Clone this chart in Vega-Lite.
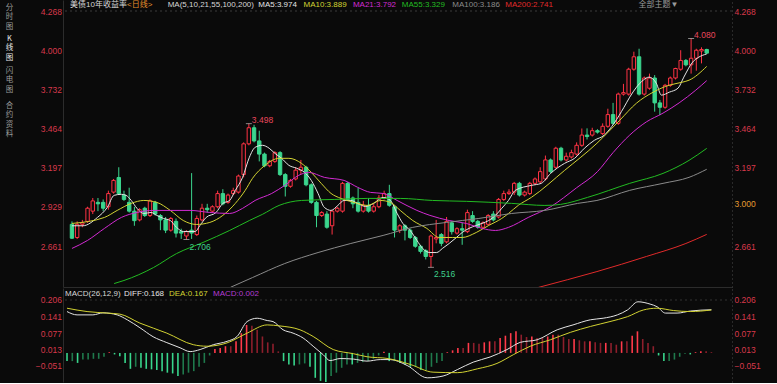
{
"$schema": "https://vega.github.io/schema/vega-lite/v6.json",
"background": "#0a0a0a",
"padding": {"left": 5, "top": 0, "right": 0, "bottom": 0},
"spacing": 1,
"config": {"view": {"stroke": null}, "font": "Liberation Sans, Noto Sans CJK SC", "axis": {"grid": false, "ticks": false, "titleAngle": 0, "titleAlign": "center", "titleBaseline": "top", "titleFontSize": 7.5, "titleFontWeight": "normal", "titleColor": "#9c9c9c", "titleLineHeight": 9.6, "titleFont": "Noto Sans CJK SC", "titlePadding": 0}},
"datasets": {
"k": [
{"i":0,"o":2.81,"h":2.83,"l":2.71,"c":2.715},{"i":1,"o":2.72,"h":2.83,"l":2.71,"c":2.81},{"i":2,"o":2.81,"h":2.84,"l":2.79,"c":2.82},{"i":3,"o":2.83,"h":2.93,"l":2.82,"c":2.92},{"i":4,"o":2.9,"h":2.99,"l":2.88,"c":2.97},{"i":5,"o":2.96,"h":2.99,"l":2.9,"c":2.95},{"i":6,"o":2.96,"h":2.98,"l":2.9,"c":2.92},{"i":7,"o":2.93,"h":3.04,"l":2.91,"c":3.02},{"i":8,"o":3.03,"h":3.12,"l":3.02,"c":3.11},{"i":9,"o":3.13,"h":3.2,"l":3.01,"c":3.02},
{"i":10,"o":3.01,"h":3.04,"l":2.97,"c":2.98},{"i":11,"o":2.96,"h":3.06,"l":2.89,"c":2.9},{"i":12,"o":2.9,"h":2.93,"l":2.8,"c":2.835},{"i":13,"o":2.84,"h":2.92,"l":2.83,"c":2.91},{"i":14,"o":2.92,"h":2.93,"l":2.86,"c":2.87},{"i":15,"o":2.87,"h":2.98,"l":2.86,"c":2.97},{"i":16,"o":2.96,"h":2.97,"l":2.87,"c":2.88},{"i":17,"o":2.87,"h":2.88,"l":2.77,"c":2.84},{"i":18,"o":2.84,"h":2.86,"l":2.75,"c":2.77},{"i":19,"o":2.77,"h":2.86,"l":2.76,"c":2.85},
{"i":20,"o":2.83,"h":2.85,"l":2.72,"c":2.75},{"i":21,"o":2.76,"h":2.78,"l":2.71,"c":2.75},{"i":22,"o":2.73,"h":2.77,"l":2.706,"c":2.76},{"i":23,"o":2.77,"h":3.16,"l":2.71,"c":2.75},{"i":24,"o":2.74,"h":2.87,"l":2.73,"c":2.85},{"i":25,"o":2.84,"h":2.95,"l":2.83,"c":2.92},{"i":26,"o":2.92,"h":2.95,"l":2.89,"c":2.91},{"i":27,"o":2.9,"h":2.94,"l":2.89,"c":2.93},{"i":28,"o":2.93,"h":3.04,"l":2.92,"c":3.02},{"i":29,"o":3.02,"h":3.05,"l":2.94,"c":2.95},
{"i":30,"o":2.96,"h":3.02,"l":2.95,"c":3.01},{"i":31,"o":3.02,"h":3.06,"l":3.01,"c":3.04},{"i":32,"o":3.03,"h":3.15,"l":3.02,"c":3.14},{"i":33,"o":3.15,"h":3.37,"l":3.13,"c":3.36},{"i":34,"o":3.36,"h":3.498,"l":3.35,"c":3.47},{"i":35,"o":3.47,"h":3.49,"l":3.37,"c":3.38},{"i":36,"o":3.38,"h":3.45,"l":3.24,"c":3.29},{"i":37,"o":3.29,"h":3.3,"l":3.2,"c":3.21},{"i":38,"o":3.21,"h":3.25,"l":3.2,"c":3.24},{"i":39,"o":3.24,"h":3.31,"l":3.23,"c":3.3},
{"i":40,"o":3.3,"h":3.31,"l":3.14,"c":3.15},{"i":41,"o":3.15,"h":3.16,"l":3.0,"c":3.07},{"i":42,"o":3.07,"h":3.12,"l":3.06,"c":3.11},{"i":43,"o":3.12,"h":3.2,"l":3.11,"c":3.18},{"i":44,"o":3.18,"h":3.25,"l":3.15,"c":3.2},{"i":45,"o":3.2,"h":3.21,"l":3.07,"c":3.08},{"i":46,"o":3.08,"h":3.09,"l":2.95,"c":2.96},{"i":47,"o":2.96,"h":2.97,"l":2.79,"c":2.87},{"i":48,"o":2.87,"h":2.9,"l":2.86,"c":2.89},{"i":49,"o":2.88,"h":2.9,"l":2.78,"c":2.79},
{"i":50,"o":2.8,"h":2.91,"l":2.74,"c":2.9},{"i":51,"o":2.9,"h":2.93,"l":2.89,"c":2.92},{"i":52,"o":2.9,"h":3.1,"l":2.89,"c":3.09},{"i":53,"o":3.09,"h":3.1,"l":2.97,"c":2.98},{"i":54,"o":2.99,"h":3.0,"l":2.92,"c":2.95},{"i":55,"o":2.96,"h":3.06,"l":2.89,"c":2.9},{"i":56,"o":2.9,"h":2.97,"l":2.89,"c":2.94},{"i":57,"o":2.94,"h":2.99,"l":2.89,"c":2.9},{"i":58,"o":2.9,"h":2.95,"l":2.89,"c":2.93},{"i":59,"o":2.93,"h":3.01,"l":2.92,"c":2.99},
{"i":60,"o":2.99,"h":3.04,"l":2.98,"c":3.02},{"i":61,"o":3.02,"h":3.08,"l":2.93,"c":2.94},{"i":62,"o":2.93,"h":2.94,"l":2.72,"c":2.77},{"i":63,"o":2.77,"h":2.81,"l":2.75,"c":2.8},{"i":64,"o":2.8,"h":2.81,"l":2.7,"c":2.77},{"i":65,"o":2.77,"h":2.78,"l":2.71,"c":2.72},{"i":66,"o":2.72,"h":2.73,"l":2.65,"c":2.66},{"i":67,"o":2.66,"h":2.67,"l":2.61,"c":2.625},{"i":68,"o":2.63,"h":2.64,"l":2.57,"c":2.59},{"i":69,"o":2.59,"h":2.74,"l":2.516,"c":2.73},
{"i":70,"o":2.71,"h":2.84,"l":2.68,"c":2.72},{"i":71,"o":2.74,"h":2.75,"l":2.66,"c":2.68},{"i":72,"o":2.69,"h":2.86,"l":2.68,"c":2.83},{"i":73,"o":2.82,"h":2.83,"l":2.74,"c":2.76},{"i":74,"o":2.75,"h":2.79,"l":2.74,"c":2.78},{"i":75,"o":2.78,"h":2.82,"l":2.67,"c":2.77},{"i":76,"o":2.76,"h":2.91,"l":2.75,"c":2.89},{"i":77,"o":2.87,"h":2.9,"l":2.82,"c":2.83},{"i":78,"o":2.83,"h":2.84,"l":2.78,"c":2.79},{"i":79,"o":2.79,"h":2.83,"l":2.78,"c":2.82},
{"i":80,"o":2.81,"h":2.88,"l":2.8,"c":2.87},{"i":81,"o":2.88,"h":2.9,"l":2.83,"c":2.84},{"i":82,"o":2.86,"h":2.99,"l":2.85,"c":2.98},{"i":83,"o":2.98,"h":3.04,"l":2.97,"c":3.02},{"i":84,"o":3.02,"h":3.05,"l":3.01,"c":3.03},{"i":85,"o":3.03,"h":3.1,"l":3.01,"c":3.09},{"i":86,"o":3.09,"h":3.1,"l":3.0,"c":3.01},{"i":87,"o":3.01,"h":3.04,"l":3.0,"c":3.03},{"i":88,"o":3.02,"h":3.1,"l":3.01,"c":3.09},{"i":89,"o":3.09,"h":3.13,"l":3.08,"c":3.12},
{"i":90,"o":3.1,"h":3.2,"l":3.09,"c":3.17},{"i":91,"o":3.12,"h":3.28,"l":3.11,"c":3.25},{"i":92,"o":3.25,"h":3.26,"l":3.16,"c":3.17},{"i":93,"o":3.2,"h":3.34,"l":3.19,"c":3.33},{"i":94,"o":3.33,"h":3.34,"l":3.24,"c":3.25},{"i":95,"o":3.25,"h":3.3,"l":3.24,"c":3.275},{"i":96,"o":3.27,"h":3.32,"l":3.26,"c":3.3},{"i":97,"o":3.29,"h":3.37,"l":3.28,"c":3.35},{"i":98,"o":3.35,"h":3.465,"l":3.34,"c":3.42},{"i":99,"o":3.42,"h":3.466,"l":3.39,"c":3.41},
{"i":100,"o":3.42,"h":3.47,"l":3.41,"c":3.45},{"i":101,"o":3.45,"h":3.46,"l":3.43,"c":3.44},{"i":102,"o":3.43,"h":3.5,"l":3.42,"c":3.48},{"i":103,"o":3.48,"h":3.6,"l":3.47,"c":3.56},{"i":104,"o":3.56,"h":3.64,"l":3.49,"c":3.5},{"i":105,"o":3.5,"h":3.71,"l":3.49,"c":3.7},{"i":106,"o":3.7,"h":3.77,"l":3.69,"c":3.71},{"i":107,"o":3.7,"h":3.88,"l":3.69,"c":3.87},{"i":108,"o":3.87,"h":3.99,"l":3.86,"c":3.955},{"i":109,"o":3.955,"h":4.01,"l":3.69,"c":3.7},
{"i":110,"o":3.7,"h":3.82,"l":3.69,"c":3.81},{"i":111,"o":3.74,"h":3.84,"l":3.73,"c":3.81},{"i":112,"o":3.81,"h":3.83,"l":3.58,"c":3.64},{"i":113,"o":3.64,"h":3.66,"l":3.556,"c":3.61},{"i":114,"o":3.61,"h":3.77,"l":3.6,"c":3.76},{"i":115,"o":3.76,"h":3.82,"l":3.75,"c":3.81},{"i":116,"o":3.81,"h":3.88,"l":3.8,"c":3.875},{"i":117,"o":3.87,"h":4.0,"l":3.86,"c":3.93},{"i":118,"o":3.93,"h":3.94,"l":3.89,"c":3.9},{"i":119,"o":3.9,"h":4.08,"l":3.84,"c":3.945},
{"i":120,"o":3.945,"h":4.01,"l":3.86,"c":4.0},{"i":121,"o":3.995,"h":4.02,"l":3.91,"c":4.005},{"i":122,"o":4.005,"h":4.01,"l":3.975,"c":3.98}
],
"ma": [
{"k":"MA5","i":0,"v":2.8},{"k":"MA5","i":2.1,"v":2.8},{"k":"MA5","i":4.9,"v":2.857},{"k":"MA5","i":6.8,"v":2.926},{"k":"MA5","i":8.1,"v":3.008},{"k":"MA5","i":9.5,"v":3.015},{"k":"MA5","i":10.4,"v":3.008},{"k":"MA5","i":11.4,"v":2.973},{"k":"MA5","i":12.5,"v":2.919},{"k":"MA5","i":13.8,"v":2.884},{"k":"MA5","i":15.2,"v":2.891},{"k":"MA5","i":16.3,"v":2.871},{"k":"MA5","i":17.6,"v":2.85},{"k":"MA5","i":18.9,"v":2.836},{"k":"MA5","i":20.1,"v":2.789},{"k":"MA5","i":21.4,"v":2.761},{"k":"MA5","i":22.3,"v":2.761},{"k":"MA5","i":23.7,"v":2.761},{"k":"MA5","i":24.6,"v":2.802},{"k":"MA5","i":25.8,"v":2.857},{"k":"MA5","i":27.7,"v":2.891},{"k":"MA5","i":29,"v":2.953},{"k":"MA5","i":30.3,"v":2.973},{"k":"MA5","i":31.4,"v":3.042},{"k":"MA5","i":32.8,"v":3.131},{"k":"MA5","i":34.1,"v":3.268},{"k":"MA5","i":35.2,"v":3.336},{"k":"MA5","i":36.6,"v":3.35},{"k":"MA5","i":37.9,"v":3.33},{"k":"MA5","i":39,"v":3.295},{"k":"MA5","i":40.3,"v":3.261},{"k":"MA5","i":41.7,"v":3.213},{"k":"MA5","i":43.2,"v":3.193},{"k":"MA5","i":44.7,"v":3.165},{"k":"MA5","i":46,"v":3.11},{"k":"MA5","i":47.3,"v":3.021},{"k":"MA5","i":48.5,"v":2.926},{"k":"MA5","i":49.8,"v":2.905},{"k":"MA5","i":51.1,"v":2.939},{"k":"MA5","i":52.3,"v":2.973},{"k":"MA5","i":53.6,"v":2.973},{"k":"MA5","i":54.9,"v":2.953},{"k":"MA5","i":56.4,"v":2.932},{"k":"MA5","i":58,"v":2.953},{"k":"MA5","i":59.8,"v":2.994},{"k":"MA5","i":61.2,"v":2.973},{"k":"MA5","i":62.5,"v":2.884},{"k":"MA5","i":63.6,"v":2.816},{"k":"MA5","i":65,"v":2.768},{"k":"MA5","i":66.3,"v":2.7},{"k":"MA5","i":67.4,"v":2.645},{"k":"MA5","i":68.8,"v":2.617},{"k":"MA5","i":70.1,"v":2.617},{"k":"MA5","i":71.2,"v":2.645},{"k":"MA5","i":72.5,"v":2.679},{"k":"MA5","i":73.9,"v":2.72},{"k":"MA5","i":75,"v":2.754},{"k":"MA5","i":76.3,"v":2.782},{"k":"MA5","i":77.7,"v":2.802},{"k":"MA5","i":78.8,"v":2.816},{"k":"MA5","i":80.1,"v":2.836},{"k":"MA5","i":81.4,"v":2.871},{"k":"MA5","i":82.6,"v":2.919},{"k":"MA5","i":83.9,"v":2.973},{"k":"MA5","i":85.2,"v":3.042},{"k":"MA5","i":88.3,"v":3.076},{"k":"MA5","i":90.2,"v":3.09},{"k":"MA5","i":92,"v":3.158},{"k":"MA5","i":94.7,"v":3.227},{"k":"MA5","i":96.6,"v":3.261},{"k":"MA5","i":98.5,"v":3.33},{"k":"MA5","i":100.4,"v":3.384},{"k":"MA5","i":102.3,"v":3.419},{"k":"MA5","i":104.2,"v":3.501},{"k":"MA5","i":106.1,"v":3.61},{"k":"MA5","i":107.2,"v":3.679},{"k":"MA5","i":108.5,"v":3.747},{"k":"MA5","i":109.8,"v":3.795},{"k":"MA5","i":110.9,"v":3.816},{"k":"MA5","i":112.3,"v":3.775},{"k":"MA5","i":113.3,"v":3.693},{"k":"MA5","i":114.8,"v":3.713},{"k":"MA5","i":116.5,"v":3.741},{"k":"MA5","i":117.6,"v":3.816},{"k":"MA5","i":119.3,"v":3.919},{"k":"MA5","i":120.5,"v":3.953},{"k":"MA5","i":122,"v":3.974},
{"k":"MA10","i":0,"v":2.816},{"k":"MA10","i":6.25,"v":2.857},{"k":"MA10","i":8.7,"v":2.905},{"k":"MA10","i":11.4,"v":2.953},{"k":"MA10","i":13.8,"v":2.973},{"k":"MA10","i":16.3,"v":2.96},{"k":"MA10","i":18.9,"v":2.905},{"k":"MA10","i":21.4,"v":2.836},{"k":"MA10","i":23.9,"v":2.809},{"k":"MA10","i":26.5,"v":2.823},{"k":"MA10","i":29,"v":2.871},{"k":"MA10","i":31.4,"v":2.953},{"k":"MA10","i":33.3,"v":3.042},{"k":"MA10","i":34.7,"v":3.124},{"k":"MA10","i":37.1,"v":3.213},{"k":"MA10","i":39.8,"v":3.261},{"k":"MA10","i":41.7,"v":3.261},{"k":"MA10","i":44.1,"v":3.227},{"k":"MA10","i":46,"v":3.165},{"k":"MA10","i":47.9,"v":3.09},{"k":"MA10","i":49.8,"v":3.021},{"k":"MA10","i":51.7,"v":2.987},{"k":"MA10","i":54.2,"v":2.96},{"k":"MA10","i":56.8,"v":2.939},{"k":"MA10","i":59.3,"v":2.973},{"k":"MA10","i":61.2,"v":2.96},{"k":"MA10","i":63.1,"v":2.905},{"k":"MA10","i":65.5,"v":2.836},{"k":"MA10","i":68.2,"v":2.782},{"k":"MA10","i":70.6,"v":2.72},{"k":"MA10","i":73.1,"v":2.72},{"k":"MA10","i":75,"v":2.72},{"k":"MA10","i":77.7,"v":2.754},{"k":"MA10","i":80.1,"v":2.802},{"k":"MA10","i":82.6,"v":2.85},{"k":"MA10","i":83.9,"v":2.884},{"k":"MA10","i":85.8,"v":2.94},{"k":"MA10","i":88.3,"v":2.994},{"k":"MA10","i":94.7,"v":3.179},{"k":"MA10","i":100.9,"v":3.364},{"k":"MA10","i":105.3,"v":3.522},{"k":"MA10","i":108.5,"v":3.638},{"k":"MA10","i":111.7,"v":3.713},{"k":"MA10","i":114.8,"v":3.761},{"k":"MA10","i":117.4,"v":3.782},{"k":"MA10","i":118.6,"v":3.795},{"k":"MA10","i":122,"v":3.889},
{"k":"MA21","i":0,"v":2.645},{"k":"MA21","i":3,"v":2.7},{"k":"MA21","i":6.25,"v":2.782},{"k":"MA21","i":9.5,"v":2.857},{"k":"MA21","i":12.5,"v":2.891},{"k":"MA21","i":15.7,"v":2.905},{"k":"MA21","i":18.9,"v":2.905},{"k":"MA21","i":22.7,"v":2.905},{"k":"MA21","i":26.5,"v":2.891},{"k":"MA21","i":30.3,"v":2.884},{"k":"MA21","i":32.8,"v":2.919},{"k":"MA21","i":35.2,"v":2.973},{"k":"MA21","i":38.4,"v":3.021},{"k":"MA21","i":40.9,"v":3.076},{"k":"MA21","i":43.6,"v":3.145},{"k":"MA21","i":45.5,"v":3.165},{"k":"MA21","i":48.5,"v":3.131},{"k":"MA21","i":52.3,"v":3.11},{"k":"MA21","i":54.9,"v":3.063},{"k":"MA21","i":57.4,"v":3.028},{"k":"MA21","i":59.8,"v":3.021},{"k":"MA21","i":62.5,"v":2.973},{"k":"MA21","i":66.3,"v":2.905},{"k":"MA21","i":68.8,"v":2.871},{"k":"MA21","i":72.5,"v":2.836},{"k":"MA21","i":75.8,"v":2.816},{"k":"MA21","i":78.8,"v":2.782},{"k":"MA21","i":81.4,"v":2.768},{"k":"MA21","i":83.9,"v":2.789},{"k":"MA21","i":87.7,"v":2.857},{"k":"MA21","i":92,"v":2.93},{"k":"MA21","i":97,"v":3.06},{"k":"MA21","i":101,"v":3.17},{"k":"MA21","i":104,"v":3.3},{"k":"MA21","i":107.2,"v":3.42},{"k":"MA21","i":110.4,"v":3.51},{"k":"MA21","i":113.6,"v":3.57},{"k":"MA21","i":116.7,"v":3.64},{"k":"MA21","i":119.9,"v":3.727},{"k":"MA21","i":122,"v":3.792},
{"k":"MA55","i":8.1,"v":2.405},{"k":"MA55","i":10,"v":2.426},{"k":"MA55","i":15.7,"v":2.515},{"k":"MA55","i":20.1,"v":2.61},{"k":"MA55","i":25.2,"v":2.686},{"k":"MA55","i":30.3,"v":2.768},{"k":"MA55","i":34.1,"v":2.836},{"k":"MA55","i":36.6,"v":2.878},{"k":"MA55","i":39.8,"v":2.939},{"k":"MA55","i":44.1,"v":2.973},{"k":"MA55","i":50.4,"v":2.98},{"k":"MA55","i":56.8,"v":2.987},{"k":"MA55","i":63.1,"v":2.987},{"k":"MA55","i":69.3,"v":2.973},{"k":"MA55","i":75.8,"v":2.967},{"k":"MA55","i":84.5,"v":2.953},{"k":"MA55","i":90.9,"v":2.939},{"k":"MA55","i":93.9,"v":2.946},{"k":"MA55","i":99.1,"v":2.994},{"k":"MA55","i":107.2,"v":3.09},{"k":"MA55","i":113.6,"v":3.158},{"k":"MA55","i":118.6,"v":3.247},{"k":"MA55","i":122,"v":3.329},
{"k":"MA100","i":30.5,"v":2.38},{"k":"MA100","i":34.7,"v":2.446},{"k":"MA100","i":40.9,"v":2.542},{"k":"MA100","i":47.3,"v":2.617},{"k":"MA100","i":53.6,"v":2.679},{"k":"MA100","i":59.8,"v":2.734},{"k":"MA100","i":65.5,"v":2.789},{"k":"MA100","i":72,"v":2.823},{"k":"MA100","i":78.2,"v":2.85},{"k":"MA100","i":84.5,"v":2.884},{"k":"MA100","i":90.9,"v":2.905},{"k":"MA100","i":97.2,"v":2.953},{"k":"MA100","i":100.9,"v":2.973},{"k":"MA100","i":107.2,"v":3.042},{"k":"MA100","i":113.6,"v":3.09},{"k":"MA100","i":118.6,"v":3.131},{"k":"MA100","i":122,"v":3.186},
{"k":"MA200","i":89.6,"v":2.378},{"k":"MA200","i":95.3,"v":2.432},{"k":"MA200","i":100.9,"v":2.487},{"k":"MA200","i":110.4,"v":2.59},{"k":"MA200","i":118,"v":2.679},{"k":"MA200","i":122,"v":2.741}
],
"ext": [{"i":34,"p":3.498,"t":"3.498","k":"hi"},{"i":119,"p":4.08,"t":"4.080","k":"hi"},{"i":22,"p":2.706,"t":"2.706","k":"lo"},{"i":69,"p":2.516,"t":"2.516","k":"lo"}],
"hdr": [{"at":-0.38,"t":"美债10年收益率","k":"name"},{"at":10.6,"t":"<日线>","k":"period"},{"at":18.4,"t":"MA(5,10,21,55,100,200)","k":"ma"},{"at":35.8,"t":"MA5:3.974","k":"MA5"},{"at":44.5,"t":"MA10:3.889","k":"MA10"},{"at":54.0,"t":"MA21:3.792","k":"MA21"},{"at":63.4,"t":"MA55:3.329","k":"MA55"},{"at":73.1,"t":"MA100:3.186","k":"MA100"},{"at":83.3,"t":"MA200:2.741","k":"MA200"},{"at":108.9,"t":"全部主题▼","k":"btn"}],
"mhdr": [{"at":-0.38,"t":"MACD(26,12,9)","k":"MACDhdr"},{"at":10.8,"t":"DIFF:0.168","k":"DIFF"},{"at":19.3,"t":"DEA:0.167","k":"DEA"},{"at":27.65,"t":"MACD:0.002","k":"MACD"}],
"ml": [
{"k":"DIFF","i":0,"v":0.161},{"k":"DIFF","i":1.9,"v":0.148},{"k":"DIFF","i":4.9,"v":0.148},{"k":"DIFF","i":6.8,"v":0.156},{"k":"DIFF","i":9.5,"v":0.148},{"k":"DIFF","i":11.4,"v":0.129},{"k":"DIFF","i":13.8,"v":0.098},{"k":"DIFF","i":16.3,"v":0.063},{"k":"DIFF","i":18.9,"v":0.04},{"k":"DIFF","i":21.4,"v":0.02},{"k":"DIFF","i":23.3,"v":0.005},{"k":"DIFF","i":25.2,"v":0.013},{"k":"DIFF","i":27.7,"v":0.032},{"k":"DIFF","i":30.3,"v":0.045},{"k":"DIFF","i":32.2,"v":0.064},{"k":"DIFF","i":34.1,"v":0.122},{"k":"DIFF","i":36,"v":0.135},{"k":"DIFF","i":37.9,"v":0.126},{"k":"DIFF","i":39,"v":0.122},{"k":"DIFF","i":40.9,"v":0.09},{"k":"DIFF","i":42.8,"v":0.077},{"k":"DIFF","i":44.7,"v":0.058},{"k":"DIFF","i":46.6,"v":0.026},{"k":"DIFF","i":48.5,"v":-0.007},{"k":"DIFF","i":49.8,"v":-0.03},{"k":"DIFF","i":51.7,"v":-0.022},{"k":"DIFF","i":54.2,"v":-0.024},{"k":"DIFF","i":56.8,"v":-0.032},{"k":"DIFF","i":59.3,"v":-0.026},{"k":"DIFF","i":61.2,"v":-0.026},{"k":"DIFF","i":64.4,"v":-0.049},{"k":"DIFF","i":68.2,"v":-0.097},{"k":"DIFF","i":71.2,"v":-0.09},{"k":"DIFF","i":73.9,"v":-0.065},{"k":"DIFF","i":76.9,"v":-0.036},{"k":"DIFF","i":80.1,"v":-0.016},{"k":"DIFF","i":83.3,"v":0.013},{"k":"DIFF","i":85.8,"v":0.041},{"k":"DIFF","i":89,"v":0.051},{"k":"DIFF","i":92.8,"v":0.09},{"k":"DIFF","i":95.8,"v":0.109},{"k":"DIFF","i":99.1,"v":0.129},{"k":"DIFF","i":101.5,"v":0.135},{"k":"DIFF","i":104.2,"v":0.148},{"k":"DIFF","i":106.1,"v":0.167},{"k":"DIFF","i":108.1,"v":0.199},{"k":"DIFF","i":110.4,"v":0.19},{"k":"DIFF","i":111.7,"v":0.18},{"k":"DIFF","i":113.3,"v":0.155},{"k":"DIFF","i":115.5,"v":0.155},{"k":"DIFF","i":118,"v":0.163},{"k":"DIFF","i":122,"v":0.168},
{"k":"DEA","i":0,"v":0.174},{"k":"DEA","i":3.8,"v":0.161},{"k":"DEA","i":7.6,"v":0.155},{"k":"DEA","i":10,"v":0.151},{"k":"DEA","i":13.8,"v":0.116},{"k":"DEA","i":18.9,"v":0.077},{"k":"DEA","i":23.9,"v":0.032},{"k":"DEA","i":26.5,"v":0.026},{"k":"DEA","i":30.3,"v":0.039},{"k":"DEA","i":34.1,"v":0.077},{"k":"DEA","i":37.9,"v":0.109},{"k":"DEA","i":40.3,"v":0.105},{"k":"DEA","i":44.1,"v":0.09},{"k":"DEA","i":46.6,"v":0.064},{"k":"DEA","i":50.4,"v":0.013},{"k":"DEA","i":54.2,"v":-0.003},{"k":"DEA","i":56.8,"v":-0.015},{"k":"DEA","i":60.8,"v":-0.022},{"k":"DEA","i":65,"v":-0.045},{"k":"DEA","i":69.3,"v":-0.075},{"k":"DEA","i":73.9,"v":-0.077},{"k":"DEA","i":77.7,"v":-0.062},{"k":"DEA","i":81.4,"v":-0.041},{"k":"DEA","i":84.5,"v":-0.007},{"k":"DEA","i":87.7,"v":0.026},{"k":"DEA","i":91.5,"v":0.051},{"k":"DEA","i":95.3,"v":0.08},{"k":"DEA","i":99.1,"v":0.103},{"k":"DEA","i":102.8,"v":0.122},{"k":"DEA","i":106.1,"v":0.141},{"k":"DEA","i":109.1,"v":0.167},{"k":"DEA","i":111.7,"v":0.174},{"k":"DEA","i":114.8,"v":0.165},{"k":"DEA","i":118,"v":0.161},{"k":"DEA","i":122,"v":0.167}
],
"hist": [
{"i":0,"h":-0.032,"s":"nf"},{"i":1,"h":-0.032,"s":"nr"},{"i":2,"h":-0.039,"s":"nf"},{"i":3,"h":-0.026,"s":"nr"},{"i":4,"h":-0.026,"s":"nr"},{"i":5,"h":-0.023,"s":"nr"},{"i":6,"h":-0.023,"s":"nr"},{"i":7,"h":-0.015,"s":"nr"},{"i":8,"h":0.003,"s":"pr"},{"i":9,"h":-0.006,"s":"nf"},
{"i":10,"h":-0.013,"s":"nf"},{"i":11,"h":-0.039,"s":"nf"},{"i":12,"h":-0.062,"s":"nf"},{"i":13,"h":-0.054,"s":"nr"},{"i":14,"h":-0.058,"s":"nf"},{"i":15,"h":-0.062,"s":"nf"},{"i":16,"h":-0.064,"s":"nf"},{"i":17,"h":-0.067,"s":"nf"},{"i":18,"h":-0.071,"s":"nf"},{"i":19,"h":-0.077,"s":"nf"},
{"i":20,"h":-0.08,"s":"nf"},{"i":21,"h":-0.09,"s":"nf"},{"i":22,"h":-0.084,"s":"nr"},{"i":23,"h":-0.077,"s":"nr"},{"i":24,"h":-0.071,"s":"nr"},{"i":25,"h":-0.054,"s":"nr"},{"i":26,"h":-0.039,"s":"nr"},{"i":27,"h":-0.01,"s":"nr"},{"i":28,"h":0.015,"s":"pr"},{"i":29,"h":0.019,"s":"pr"},
{"i":30,"h":0.026,"s":"pr"},{"i":31,"h":0.026,"s":"pf"},{"i":32,"h":0.045,"s":"pr"},{"i":33,"h":0.077,"s":"pr"},{"i":34,"h":0.109,"s":"pr"},{"i":35,"h":0.106,"s":"pf"},{"i":36,"h":0.09,"s":"pf"},{"i":37,"h":0.064,"s":"pf"},{"i":38,"h":0.041,"s":"pf"},{"i":39,"h":0.036,"s":"pf"},
{"i":40,"h":0.006,"s":"pf"},{"i":41,"h":-0.032,"s":"nf"},{"i":42,"h":-0.045,"s":"nf"},{"i":43,"h":-0.049,"s":"nf"},{"i":44,"h":-0.045,"s":"nr"},{"i":45,"h":-0.041,"s":"nr"},{"i":46,"h":-0.054,"s":"nf"},{"i":47,"h":-0.097,"s":"nf"},{"i":48,"h":-0.109,"s":"nf"},{"i":49,"h":-0.113,"s":"nf"},
{"i":50,"h":-0.09,"s":"nr"},{"i":51,"h":-0.077,"s":"nr"},{"i":52,"h":-0.058,"s":"nr"},{"i":53,"h":-0.045,"s":"nr"},{"i":54,"h":-0.045,"s":"nf"},{"i":55,"h":-0.039,"s":"nr"},{"i":56,"h":-0.036,"s":"nr"},{"i":57,"h":-0.032,"s":"nr"},{"i":58,"h":-0.023,"s":"nr"},{"i":59,"h":-0.01,"s":"nr"},
{"i":60,"h":0.004,"s":"pr"},{"i":61,"h":-0.032,"s":"nf"},{"i":62,"h":-0.032,"s":"nr"},{"i":63,"h":-0.039,"s":"nf"},{"i":64,"h":-0.045,"s":"nf"},{"i":65,"h":-0.054,"s":"nf"},{"i":66,"h":-0.054,"s":"nr"},{"i":67,"h":-0.067,"s":"nf"},{"i":68,"h":-0.067,"s":"nr"},{"i":69,"h":-0.054,"s":"nr"},
{"i":70,"h":-0.039,"s":"nr"},{"i":71,"h":-0.032,"s":"nr"},{"i":72,"h":0.003,"s":"pr"},{"i":73,"h":0.01,"s":"pr"},{"i":74,"h":0.019,"s":"pr"},{"i":75,"h":0.019,"s":"pf"},{"i":76,"h":0.039,"s":"pr"},{"i":77,"h":0.039,"s":"pf"},{"i":78,"h":0.036,"s":"pf"},{"i":79,"h":0.041,"s":"pr"},
{"i":80,"h":0.045,"s":"pr"},{"i":81,"h":0.045,"s":"pf"},{"i":82,"h":0.058,"s":"pr"},{"i":83,"h":0.067,"s":"pr"},{"i":84,"h":0.077,"s":"pr"},{"i":85,"h":0.084,"s":"pr"},{"i":86,"h":0.071,"s":"pf"},{"i":87,"h":0.062,"s":"pf"},{"i":88,"h":0.064,"s":"pr"},{"i":89,"h":0.058,"s":"pf"},
{"i":90,"h":0.058,"s":"pf"},{"i":91,"h":0.064,"s":"pr"},{"i":92,"h":0.071,"s":"pr"},{"i":93,"h":0.071,"s":"pf"},{"i":94,"h":0.062,"s":"pf"},{"i":95,"h":0.054,"s":"pf"},{"i":96,"h":0.054,"s":"pr"},{"i":97,"h":0.049,"s":"pf"},{"i":98,"h":0.045,"s":"pf"},{"i":99,"h":0.045,"s":"pr"},
{"i":100,"h":0.041,"s":"pf"},{"i":101,"h":0.039,"s":"pf"},{"i":102,"h":0.039,"s":"pr"},{"i":103,"h":0.039,"s":"pf"},{"i":104,"h":0.032,"s":"pf"},{"i":105,"h":0.045,"s":"pr"},{"i":106,"h":0.045,"s":"pf"},{"i":107,"h":0.067,"s":"pr"},{"i":108,"h":0.084,"s":"pr"},{"i":109,"h":0.054,"s":"pf"},
{"i":110,"h":0.039,"s":"pf"},{"i":111,"h":0.026,"s":"pf"},{"i":112,"h":-0.01,"s":"nf"},{"i":113,"h":-0.032,"s":"nf"},{"i":114,"h":-0.032,"s":"nr"},{"i":115,"h":-0.026,"s":"nr"},{"i":116,"h":-0.015,"s":"nr"},{"i":117,"h":-0.003,"s":"nr"},{"i":118,"h":-0.006,"s":"nf"},{"i":119,"h":0.003,"s":"pr"},
{"i":120,"h":0.006,"s":"pr"},{"i":121,"h":0.006,"s":"pf"},{"i":122,"h":0.003,"s":"pf"}
]
},
"vconcat": [
{
"width": 669, "height": 287,
"resolve": {"axis": {"y": "independent", "x": "independent"}},
"layer": [
{"data": {"values": [{}]}, "mark": {"type": "rule", "color": "#3a3a3a", "strokeDash": [2, 3]}, "encoding": {"y": {"datum": 4.268, "type": "quantitative", "scale": {"domain": [2.3815, 4.3432], "zero": false, "nice": false}, "axis": {"orient": "left", "values": [4.268, 4.0, 3.732, 3.464, 3.197, 2.929, 2.661], "format": ".3f", "labelColor": "#d8394a", "labelFontSize": 8.5, "labelPadding": 1.5, "domainColor": "#2c2c2c", "minExtent": 45, "maxExtent": 45, "title": ["分","时","图"], "titleX": -54, "titleY": 3}}}},
{"data": {"values": [{}]}, "mark": {"type": "rule", "opacity": 0}, "encoding": {"y": {"datum": 4.268, "type": "quantitative", "scale": {"domain": [2.3815, 4.3432], "zero": false, "nice": false}, "axis": {"orient": "right", "values": [4.268, 4.0, 3.732, 3.464, 3.197, 2.9536, 2.661], "labelExpr": "datum.value == 2.9536 ? '3.000' : format(datum.value, '.3f')", "labelColor": {"condition": {"test": "datum.value == 2.9536", "value": "#e39b32"}, "value": "#d8394a"}, "labelFontSize": 8.5, "labelPadding": 2, "domainColor": "#4a4a4a", "domainDash": [1, 3], "minExtent": 45, "maxExtent": 45, "title": ["K","线","图"], "titleX": -723, "titleY": 34, "titleColor": "#e6e6e6"}}}},
{"data": {"values": [{}]}, "mark": {"type": "rule", "opacity": 0}, "encoding": {"x": {"datum": 0, "type": "quantitative", "scale": {"domain": [-0.76, 125.9], "zero": false, "nice": false}, "axis": {"orient": "top", "labels": false, "domain": false, "title": ["闪","电","图"], "titleX": -54, "titleY": 66}}}},
{"data": {"name": "k"}, "mark": {"type": "rule", "strokeWidth": 1}, "encoding": {"x": {"field": "i", "type": "quantitative", "scale": {"domain": [-0.76, 125.9], "zero": false, "nice": false}, "axis": {"orient": "bottom", "labels": false, "domainColor": "#2c2c2c", "title": ["合","约","资","料"], "titleX": -54, "titleY": -186}}, "y": {"field": "l", "type": "quantitative", "scale": {"domain": [2.3815, 4.3432], "zero": false, "nice": false}, "axis": null}, "y2": {"field": "h"}, "color": {"condition": {"test": "datum.c >= datum.o", "value": "#ff3344"}, "value": "#3bd68e"}}},
{"data": {"name": "k"}, "mark": {"type": "bar", "size": 3.4, "strokeWidth": 1}, "encoding": {"x": {"field": "i", "type": "quantitative", "axis": null}, "y": {"field": "o", "type": "quantitative", "axis": null}, "y2": {"field": "c"}, "fill": {"condition": {"test": "datum.c >= datum.o", "value": "#0a0a0a"}, "value": "#3bd68e"}, "stroke": {"condition": {"test": "datum.c >= datum.o", "value": "#ff3344"}, "value": "#3bd68e"}}},
{"data": {"name": "ma"}, "mark": {"type": "line", "strokeWidth": 1, "clip": true, "interpolate": "monotone"}, "encoding": {"x": {"field": "i", "type": "quantitative", "axis": null}, "y": {"field": "v", "type": "quantitative", "axis": null}, "detail": {"field": "k"}, "color": {"field": "k", "type": "nominal", "legend": null, "scale": {"domain": ["name","period","ma","btn","MA5","MA10","MA21","MA55","MA100","MA200","MACDhdr","DIFF","DEA","MACD"], "range": ["#d6d6d6","#e8912d","#d6d6d6","#9a9a9a","#e4e4e4","#d2d232","#d22ad2","#22bb22","#8a8a8a","#e02a2a","#d6d6d6","#e4e4e4","#d2d232","#b43cd2"]}}}},
{"data": {"name": "ext"}, "mark": {"type": "tick", "orient": "horizontal", "size": 6, "thickness": 1, "color": "#bdbdbd"}, "encoding": {"x": {"field": "i", "type": "quantitative", "axis": null}, "y": {"field": "p", "type": "quantitative", "axis": null}}},
{"data": {"name": "ext"}, "transform": [{"filter": "datum.k == 'hi'"}], "mark": {"type": "text", "align": "left", "baseline": "middle", "dx": 3, "dy": -4, "fontSize": 8.5, "color": "#e8475c"}, "encoding": {"x": {"field": "i", "type": "quantitative", "axis": null}, "y": {"field": "p", "type": "quantitative", "axis": null}, "text": {"field": "t"}}},
{"data": {"name": "ext"}, "transform": [{"filter": "datum.k == 'lo'"}], "mark": {"type": "text", "align": "left", "baseline": "middle", "dx": 3, "dy": 7, "fontSize": 8.5, "color": "#3fcf8c"}, "encoding": {"x": {"field": "i", "type": "quantitative", "axis": null}, "y": {"field": "p", "type": "quantitative", "axis": null}, "text": {"field": "t"}}},
{"data": {"name": "hdr"}, "mark": {"type": "text", "align": "left", "baseline": "middle", "fontSize": 8}, "encoding": {"x": {"field": "at", "type": "quantitative", "axis": null}, "y": {"datum": 4.31, "type": "quantitative", "axis": null}, "text": {"field": "t"}, "color": {"field": "k", "type": "nominal", "legend": null, "scale": {"domain": ["name","period","ma","btn","MA5","MA10","MA21","MA55","MA100","MA200","MACDhdr","DIFF","DEA","MACD"], "range": ["#d6d6d6","#e8912d","#d6d6d6","#9a9a9a","#e4e4e4","#d2d232","#d22ad2","#22bb22","#8a8a8a","#e02a2a","#d6d6d6","#e4e4e4","#d2d232","#b43cd2"]}}}}
]
},
{
"width": 669, "height": 94,
"resolve": {"axis": {"y": "independent"}},
"layer": [
{"data": {"values": [{}]}, "mark": {"type": "rule", "color": "#333333", "strokeDash": [2, 3]}, "encoding": {"y": {"datum": 0.206, "type": "quantitative", "scale": {"domain": [-0.1133, 0.2527], "zero": false, "nice": false}, "axis": {"orient": "left", "values": [0.206, 0.141, 0.077, 0.013, -0.051], "format": ".3f", "labelColor": "#d8394a", "labelFontSize": 8.5, "labelPadding": 1.5, "domainColor": "#2c2c2c", "minExtent": 45, "maxExtent": 45, "title": null}}}},
{"data": {"values": [{}]}, "mark": {"type": "rule", "opacity": 0}, "encoding": {"y": {"datum": 0.206, "type": "quantitative", "scale": {"domain": [-0.1133, 0.2527], "zero": false, "nice": false}, "axis": {"orient": "right", "values": [0.206, 0.141, 0.077, 0.013, -0.051], "format": ".3f", "labelColor": "#d8394a", "labelFontSize": 8.5, "labelPadding": 2, "domainColor": "#4a4a4a", "domainDash": [1, 3], "minExtent": 45, "maxExtent": 45, "title": null}}}},
{"data": {"name": "hist"}, "mark": {"type": "rule", "strokeWidth": 1.6}, "encoding": {"x": {"field": "i", "type": "quantitative", "scale": {"domain": [-0.76, 125.9], "zero": false, "nice": false}, "axis": {"orient": "bottom", "labels": false, "domainColor": "#2c2c2c", "title": null}}, "y": {"field": "h", "type": "quantitative", "scale": {"domain": [-0.1133, 0.2527], "zero": false, "nice": false}, "axis": null}, "y2": {"datum": 0}, "color": {"condition": [{"test": "datum.s == 'pr'", "value": "#ff3a4a"}, {"test": "datum.s == 'pf'", "value": "#8e1f2c"}, {"test": "datum.s == 'nf'", "value": "#38d68c"}], "value": "#1f7a4c"}}},
{"data": {"name": "ml"}, "mark": {"type": "line", "strokeWidth": 1, "interpolate": "monotone"}, "encoding": {"x": {"field": "i", "type": "quantitative", "axis": null}, "y": {"field": "v", "type": "quantitative", "axis": null}, "detail": {"field": "k"}, "color": {"field": "k", "type": "nominal", "legend": null, "scale": {"domain": ["name","period","ma","btn","MA5","MA10","MA21","MA55","MA100","MA200","MACDhdr","DIFF","DEA","MACD"], "range": ["#d6d6d6","#e8912d","#d6d6d6","#9a9a9a","#e4e4e4","#d2d232","#d22ad2","#22bb22","#8a8a8a","#e02a2a","#d6d6d6","#e4e4e4","#d2d232","#b43cd2"]}}}},
{"data": {"name": "mhdr"}, "mark": {"type": "text", "align": "left", "baseline": "middle", "fontSize": 8}, "encoding": {"x": {"field": "at", "type": "quantitative", "axis": null}, "y": {"datum": 0.231, "type": "quantitative", "axis": null}, "text": {"field": "t"}, "color": {"field": "k", "type": "nominal", "legend": null, "scale": {"domain": ["name","period","ma","btn","MA5","MA10","MA21","MA55","MA100","MA200","MACDhdr","DIFF","DEA","MACD"], "range": ["#d6d6d6","#e8912d","#d6d6d6","#9a9a9a","#e4e4e4","#d2d232","#d22ad2","#22bb22","#8a8a8a","#e02a2a","#d6d6d6","#e4e4e4","#d2d232","#b43cd2"]}}}}
]
}
]
}
